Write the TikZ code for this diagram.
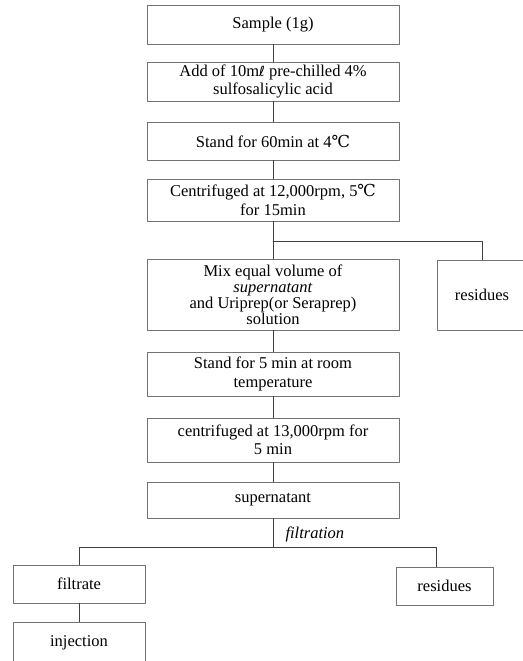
\documentclass[tikz,border=0pt]{standalone}
\usepackage{fontspec}
\setmainfont{Liberation Serif}
\newfontfamily\symfont{DejaVu Serif}
\newfontfamily\litrefont{DejaVu Sans}
\usetikzlibrary{calc,positioning}

\begin{document}
\begin{tikzpicture}[x=1pt,y=-1pt,line cap=round,line join=round,
	stepbox/.style={draw=black!55,line width=0.5pt,align=center,inner sep=0pt,
		font=\fontsize{16.5}{18.5}\selectfont},
	link/.style={draw=black!75,line width=0.6pt}]
	\useasboundingbox (0,0) rectangle (522,661);
	% main column
	\node[stepbox,minimum width=252pt,minimum height=39pt] (sample) at (273,24.5) {Sample (1g)};
	\node[stepbox,minimum width=252pt,minimum height=39pt] (acid) at (273,81.5) {Add of 10m{\litrefont\fontsize{14}{18}\selectfont ℓ} pre-chilled 4\%\\sulfosalicylic acid};
	\node[stepbox,minimum width=252pt,minimum height=38pt] (stand) at (273,141) {Stand for 60min at 4{\symfont ℃}};
	\node[stepbox,minimum width=252pt,minimum height=42pt] (spin) at (273,200) {Centrifuged at 12,000rpm, 5{\symfont ℃}\\for 15min};
	\node[stepbox,minimum width=252pt,minimum height=71pt,font=\fontsize{16.5}{16}\selectfont] (mix) at (273,294.5) {Mix equal volume of\\\textit{supernatant}\\and Uriprep(or Seraprep)\\solution};
	\node[stepbox,minimum width=252pt,minimum height=44pt] (rest) at (273,374) {Stand for 5 min at room\\temperature};
	\node[stepbox,minimum width=252pt,minimum height=44pt] (spintwo) at (273,440) {centrifuged at 13,000rpm for\\5 min};
	\node[stepbox,minimum width=252pt,minimum height=36pt] (super) at (273,500) {supernatant};
	% side branches
	\node[stepbox,minimum width=90pt,minimum height=70pt] (resone) at (482,295) {residues};
	\node[stepbox,minimum width=132pt,minimum height=38pt] (filtrate) at (79,584) {filtrate};
	\node[stepbox,minimum width=97pt,minimum height=38pt] (restwo) at (444.5,586) {residues};
	\node[stepbox,minimum width=132pt,minimum height=42pt] (inject) at (79,643) {injection};

	% split points
	\coordinate (splitone) at (273,241);
	\coordinate (splittwo) at (273,547);

	\draw[link] (sample) -- (acid);
	\draw[link] (acid) -- (stand);
	\draw[link] (stand) -- (spin);
	\draw[link] (spin) -- (mix);
	\draw[link] (splitone) -| (resone);
	\draw[link] (mix) -- (rest);
	\draw[link] (rest) -- (spintwo);
	\draw[link] (spintwo) -- (super);
	\draw[link] (super) -- (splittwo);
	\draw[link] (splittwo) -| (filtrate);
	\draw[link] (splittwo) -| ([xshift=-8pt]restwo.north);
	\draw[link] (filtrate) -- (inject);
	\node[font=\fontsize{16.5}{18.5}\selectfont\itshape,anchor=west] (filt) at (282,534) {filtration};
\end{tikzpicture}
\end{document}
